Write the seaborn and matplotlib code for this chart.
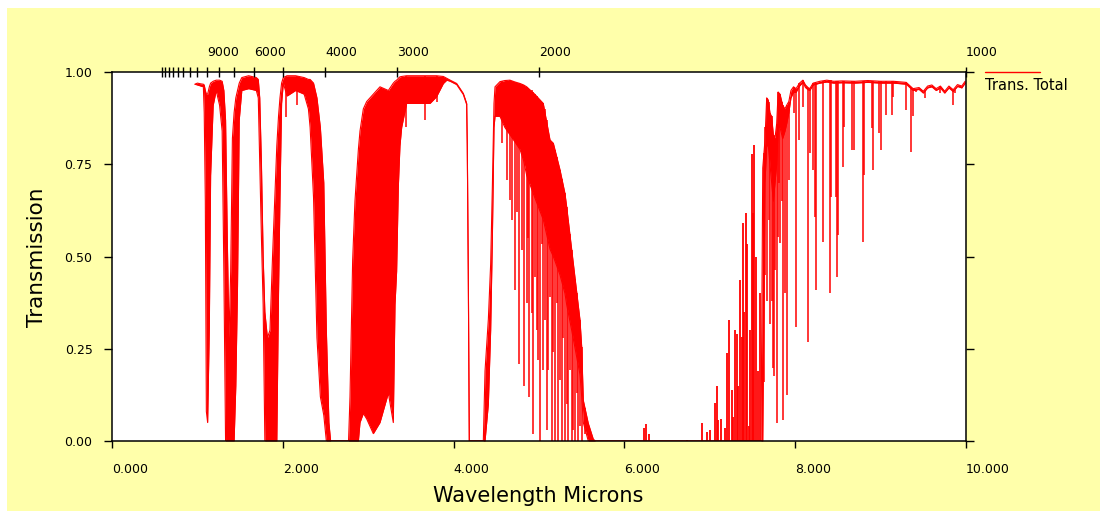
import numpy as np
import matplotlib.pyplot as plt
import seaborn as sns
from matplotlib.lines import Line2D
from matplotlib.patches import Rectangle

sns.set_style('white')
plt.rcParams['font.family'] = ['DejaVu Sans']
plt.rcParams['text.color'] = 'black'
plt.rcParams['xtick.color'] = 'black'
plt.rcParams['ytick.color'] = 'black'

# band envelope: wavelength (microns), upper and lower transmission of the dense line forest
env_wl = [0.972, 1.000, 1.040, 1.070, 1.080, 1.093, 1.105, 1.120, 1.140, 1.155, 1.185, 1.220, 1.260,
          1.290, 1.310, 1.330, 1.350, 1.370, 1.390, 1.410, 1.430, 1.450, 1.470, 1.490, 1.520, 1.600,
          1.690, 1.713, 1.730, 1.750, 1.770, 1.790, 1.820, 1.850, 1.880, 1.930, 1.950, 1.967, 1.986,
          2.006, 2.050, 2.150, 2.250, 2.300, 2.320, 2.360, 2.400, 2.440, 2.480, 2.510, 2.540, 2.560,
          2.770, 2.787, 2.818, 2.845, 2.885, 2.904, 2.943, 2.982, 3.060, 3.138, 3.236, 3.294, 3.314,
          3.333, 3.353, 3.372, 3.392, 3.450, 3.568, 3.724, 3.800, 3.880, 3.920, 3.960, 4.036, 4.114,
          4.153, 4.160, 4.172, 4.184, 4.348, 4.368, 4.407, 4.434, 4.454, 4.473, 4.485, 4.543, 4.600,
          4.660, 4.720, 4.778, 4.820, 4.856, 4.950, 5.050, 5.129, 5.168, 5.246, 5.304, 5.324, 5.383,
          5.480, 5.500, 5.519, 5.577, 5.636, 5.660, 7.600, 7.620, 7.646, 7.666, 7.685, 7.705, 7.724,
          7.744, 7.763, 7.783, 7.800, 7.822, 7.853, 7.880, 7.900, 7.925, 7.950, 7.980, 8.010, 8.050,
          8.090, 8.120, 8.150, 8.170, 8.210, 8.290, 8.370, 8.450, 8.550, 8.700, 8.850, 9.000, 9.150,
          9.300, 9.380, 9.450, 9.500, 9.550, 9.600, 9.650, 9.700, 9.750, 9.800, 9.850, 9.900, 9.950,
          9.990]
env_hi = [0.967, 0.970, 0.968, 0.967, 0.965, 0.950, 0.940, 0.940, 0.960, 0.970, 0.975, 0.978, 0.978,
          0.975, 0.950, 0.870, 0.550, 0.280, 0.460, 0.820, 0.890, 0.930, 0.950, 0.970, 0.985, 0.990,
          0.985, 0.980, 0.930, 0.750, 0.500, 0.350, 0.280, 0.300, 0.500, 0.800, 0.880, 0.930, 0.970,
          0.985, 0.990, 0.990, 0.985, 0.980, 0.980, 0.970, 0.930, 0.850, 0.700, 0.300, 0.050, 0.000,
          0.000, 0.120, 0.490, 0.650, 0.790, 0.840, 0.900, 0.920, 0.940, 0.960, 0.950, 0.970, 0.975,
          0.978, 0.983, 0.987, 0.988, 0.990, 0.990, 0.990, 0.990, 0.988, 0.983, 0.978, 0.969, 0.942,
          0.915, 0.807, 0.460, 0.000, 0.000, 0.190, 0.330, 0.480, 0.690, 0.915, 0.960, 0.974, 0.977,
          0.978, 0.973, 0.969, 0.965, 0.960, 0.940, 0.915, 0.816, 0.807, 0.735, 0.671, 0.635, 0.518,
          0.328, 0.255, 0.110, 0.048, 0.005, 0.000, 0.000, 0.740, 0.815, 0.930, 0.924, 0.888, 0.880,
          0.830, 0.820, 0.860, 0.946, 0.940, 0.910, 0.900, 0.910, 0.920, 0.950, 0.960, 0.955, 0.970,
          0.978, 0.965, 0.958, 0.955, 0.970, 0.975, 0.978, 0.975, 0.976, 0.975, 0.977, 0.975, 0.975,
          0.972, 0.955, 0.958, 0.948, 0.962, 0.965, 0.955, 0.962, 0.948, 0.962, 0.952, 0.966, 0.962,
          0.975]
env_lo = [0.967, 0.965, 0.962, 0.960, 0.890, 0.650, 0.080, 0.050, 0.310, 0.720, 0.910, 0.950, 0.910,
          0.840, 0.460, 0.000, 0.000, 0.000, 0.000, 0.000, 0.000, 0.150, 0.420, 0.870, 0.950, 0.955,
          0.950, 0.930, 0.750, 0.550, 0.370, 0.000, 0.000, 0.000, 0.000, 0.000, 0.400, 0.660, 0.915,
          0.970, 0.935, 0.950, 0.940, 0.900, 0.850, 0.660, 0.280, 0.120, 0.070, 0.000, 0.000, 0.000,
          0.000, 0.000, 0.000, 0.000, 0.000, 0.050, 0.075, 0.060, 0.020, 0.050, 0.130, 0.050, 0.370,
          0.460, 0.690, 0.800, 0.850, 0.915, 0.915, 0.915, 0.933, 0.969, 0.978, 0.975, 0.966, 0.939,
          0.912, 0.804, 0.457, 0.000, 0.000, 0.000, 0.100, 0.300, 0.550, 0.850, 0.880, 0.880, 0.850,
          0.830, 0.810, 0.790, 0.760, 0.720, 0.660, 0.600, 0.520, 0.500, 0.450, 0.400, 0.370, 0.300,
          0.180, 0.120, 0.050, 0.000, 0.000, 0.000, 0.000, 0.000, 0.700, 0.800, 0.800, 0.750, 0.700,
          0.650, 0.700, 0.750, 0.850, 0.850, 0.820, 0.840, 0.860, 0.890, 0.930, 0.945, 0.945, 0.962,
          0.972, 0.958, 0.952, 0.950, 0.965, 0.970, 0.973, 0.970, 0.971, 0.970, 0.972, 0.970, 0.970,
          0.967, 0.950, 0.953, 0.943, 0.957, 0.960, 0.950, 0.957, 0.943, 0.957, 0.947, 0.961, 0.957,
          0.970]

# single absorption lines hanging down from the continuum
dip_wl = [2.037, 2.163, 3.443, 3.665, 3.800,
          4.563, 4.622, 4.660, 4.680, 4.719, 4.745, 4.770, 4.797, 4.824, 4.855, 4.870, 4.887, 4.914,
          4.934, 4.953, 4.972, 4.992, 5.012, 5.031, 5.051, 5.070, 5.090, 5.109, 5.129, 5.148, 5.168,
          5.187, 5.207, 5.226, 5.246, 5.265, 5.285, 5.304, 5.324, 5.343, 5.363, 5.382, 5.402, 5.421,
          5.441, 5.460, 5.480, 5.500, 5.538, 5.600,
          7.630, 7.650, 7.666, 7.690, 7.705, 7.724, 7.744, 7.750, 7.763, 7.783, 7.800, 7.812, 7.822,
          7.840, 7.853, 7.880, 7.900, 7.925, 7.980, 8.010, 8.050, 8.090, 8.150, 8.170, 8.210, 8.230,
          8.240, 8.330, 8.410, 8.420, 8.480, 8.490, 8.500, 8.560, 8.570, 8.660, 8.690, 8.790, 8.800,
          8.895, 8.907, 8.985, 9.010, 9.060, 9.130, 9.150, 9.300, 9.360, 9.375, 9.420, 9.520, 9.700,
          9.850, 9.870]
dip_top = [0.990, 0.990, 0.990, 0.990, 0.990,
           0.975, 0.977, 0.978, 0.977, 0.973, 0.971, 0.970, 0.968, 0.965, 0.960, 0.958, 0.955, 0.950,
           0.945, 0.940, 0.935, 0.930, 0.925, 0.920, 0.915, 0.900, 0.870, 0.840, 0.816, 0.810, 0.807,
           0.790, 0.770, 0.750, 0.735, 0.710, 0.690, 0.671, 0.635, 0.600, 0.560, 0.518, 0.480, 0.440,
           0.400, 0.360, 0.328, 0.255, 0.090, 0.030,
           0.780, 0.850, 0.930, 0.920, 0.888, 0.880, 0.830, 0.830, 0.820, 0.860, 0.946, 0.940, 0.940,
           0.920, 0.910, 0.900, 0.910, 0.920, 0.960, 0.955, 0.970, 0.978, 0.958, 0.955, 0.970, 0.970,
           0.970, 0.975, 0.978, 0.978, 0.975, 0.975, 0.975, 0.976, 0.976, 0.975, 0.975, 0.976, 0.976,
           0.977, 0.977, 0.975, 0.975, 0.975, 0.975, 0.975, 0.972, 0.960, 0.955, 0.955, 0.950, 0.962,
           0.952, 0.950]
dip_bot = [0.879, 0.910, 0.852, 0.870, 0.920,
           0.807, 0.707, 0.653, 0.599, 0.409, 0.620, 0.210, 0.518, 0.148, 0.373, 0.550, 0.120, 0.346,
           0.020, 0.445, 0.300, 0.220, 0.000, 0.535, 0.193, 0.328, 0.030, 0.193, 0.390, 0.000, 0.240,
           0.000, 0.373, 0.000, 0.166, 0.000, 0.280, 0.000, 0.100, 0.000, 0.193, 0.000, 0.030, 0.000,
           0.130, 0.000, 0.040, 0.000, 0.020, 0.000,
           0.160, 0.450, 0.380, 0.600, 0.318, 0.380, 0.197, 0.175, 0.463, 0.050, 0.554, 0.700, 0.536,
           0.650, 0.057, 0.400, 0.125, 0.707, 0.888, 0.310, 0.815, 0.906, 0.269, 0.780, 0.735, 0.608,
           0.409, 0.540, 0.400, 0.662, 0.662, 0.445, 0.558, 0.743, 0.852, 0.789, 0.789, 0.540, 0.720,
           0.847, 0.735, 0.834, 0.789, 0.883, 0.883, 0.933, 0.897, 0.784, 0.880, 0.947, 0.930, 0.942,
           0.910, 0.942]

# lines rising from zero in the 6-7.6 micron water band
peak_wl = [6.230, 6.253, 6.290, 6.730, 6.905, 6.970, 7.000, 7.060, 7.080, 7.100, 7.130, 7.180,
           7.205, 7.230, 7.256, 7.276, 7.295, 7.315, 7.335, 7.354, 7.373, 7.385, 7.400, 7.424,
           7.440, 7.460, 7.475, 7.490, 7.510, 7.520, 7.540, 7.568, 7.585]
peak_top = [0.034, 0.045, 0.020, 0.004, 0.050, 0.025, 0.030, 0.102, 0.148, 0.057, 0.060, 0.034,
            0.238, 0.328, 0.138, 0.066, 0.300, 0.291, 0.150, 0.436, 0.283, 0.590, 0.350, 0.617,
            0.535, 0.040, 0.300, 0.779, 0.617, 0.802, 0.500, 0.190, 0.400]

# axis ticks
y_ticks = [0.0, 0.25, 0.5, 0.75, 1.0]
x_ticks = [0, 2, 4, 6, 8, 10]
wavenumbers = [1000, 2000, 3000, 4000, 5000, 6000, 7000, 8000, 9000,
               10000, 11000, 12000, 13000, 14000, 15000, 16000, 17000]
wn_labelled = [1000, 2000, 3000, 4000, 6000, 9000]

red = '#FF0000'
fig = plt.figure(figsize=(11, 5.11), dpi=100, facecolor='white')
fig.add_artist(Rectangle((7 / 1100, 0), 1, 1 - 8 / 511, transform=fig.transFigure,
                         facecolor='#FFFFAA', edgecolor='none', zorder=-10))
ax = fig.add_axes([0.1018, 0.137, 0.7764, 0.722])
ax.set_facecolor('white')

ax.fill_between(env_wl, env_lo, env_hi, color=red, lw=0)
sns.lineplot(x=env_wl, y=env_hi, color=red, lw=0.8, ax=ax, estimator=None, sort=False)
sns.lineplot(x=env_wl, y=env_lo, color=red, lw=0.8, ax=ax, estimator=None, sort=False)
ax.vlines(dip_wl, dip_bot, dip_top, color=red, lw=1.1)
ax.vlines(peak_wl, 0, peak_top, color=red, lw=1.3)

ax.set_xlim(0, 10)
ax.set_ylim(0, 1)
ax.set_xlabel('')
ax.set_ylabel('')
for s in ax.spines.values():
    s.set_visible(True)
    s.set_color('black')
    s.set_linewidth(1.1)

ax.set_yticks(y_ticks)
ax.set_yticklabels([f'{v:.2f}' for v in y_ticks])
ax.set_xticks(x_ticks)
ax.set_xticklabels([f'{v:.3f}' for v in x_ticks])
ax.tick_params(axis='y', which='both', left=True, right=True, direction='out',
               length=6, width=1, color='black', labelsize=9, pad=8)
ax.tick_params(axis='x', bottom=True, direction='out', length=5, width=1,
               color='black', labelsize=9, pad=11)
for lbl in ax.get_xticklabels():
    lbl.set_ha('left')

# wavenumber axis on top (cm-1)
ax2 = ax.twiny()
ax2.set_xlim(0, 10)
ax2.set_xticks([10000 / w for w in wavenumbers])
ax2.set_xticklabels([str(w) if w in wn_labelled else '' for w in wavenumbers])
ax2.tick_params(axis='x', top=True, direction='inout', length=7, width=1,
                color='black', labelsize=9, pad=6)
for lbl in ax2.get_xticklabels():
    lbl.set_ha('left')
for s in ax2.spines.values():
    s.set_visible(False)

fig.text(37 / 1100, 1 - 257 / 511, 'Transmission', rotation=90, ha='center', va='center', fontsize=15.5)
fig.text(538 / 1100, 1 - 496 / 511, 'Wavelength Microns', ha='center', va='center', fontsize=15)

# legend drawn by hand: line above the text
fig.add_artist(Line2D([985 / 1100, 1040 / 1100], [1 - 72 / 511, 1 - 72 / 511], color=red, lw=1))
fig.text(985 / 1100, 1 - 85 / 511, 'Trans. Total', ha='left', va='center', fontsize=10.5)

fig.savefig('out.png', dpi=100, facecolor=fig.get_facecolor())
